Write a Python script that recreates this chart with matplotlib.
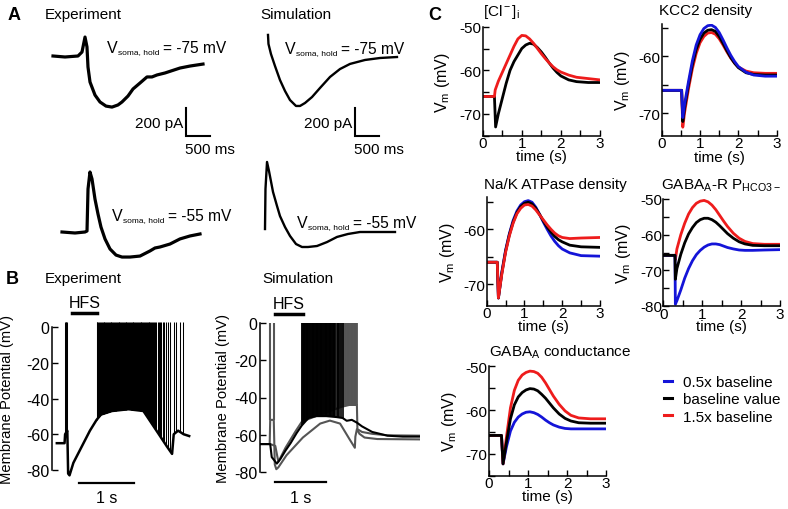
import matplotlib.pyplot as plt
import numpy as np
from matplotlib.lines import Line2D
from matplotlib.ticker import MultipleLocator

plt.rcParams["font.family"] = ["Liberation Sans", "DejaVu Sans"]
plt.rcParams["mathtext.fontset"] = "custom"
plt.rcParams["mathtext.rm"] = "Liberation Sans"
plt.rcParams["mathtext.it"] = "Liberation Sans:italic"
plt.rcParams["mathtext.bf"] = "Liberation Sans:bold"
plt.rcParams["axes.unicode_minus"] = False
plt.rcParams["font.size"] = 10.8

W, H = 788, 510
RED, BLUE, BLACK, GRAY = "#ee1c1c", "#1414d8", "black", "#555555"

# ---------------- panel A: voltage-clamp currents (ms, pA) ----------------
EXP75_T = [0, 250, 521, 604, 667, 708, 729, 771, 875, 979, 1104, 1229, 1354, 1437,
           1562, 1667, 1812, 1958, 2062, 2167, 2333, 2646, 2854, 3125]
EXP75_I = [0, -7, 0, 28, 134, 64, -78, -184, -276, -325, -354, -361, -346, -325,
           -283, -233, -191, -148, -148, -134, -120, -85, -71, -57]
SIM75_T = [0, 10, 62, 146, 250, 354, 458, 583, 667, 771, 917, 1083, 1292, 1500,
           1708, 2021, 2333, 2687]
SIM75_I = [156, 92, 21, -64, -163, -240, -304, -346, -346, -325, -283, -219, -141,
           -85, -49, -21, -7, 0]
EXP55_T = [0, 271, 479, 521, 542, 583, 625, 687, 750, 812, 896, 1000, 1125, 1250,
           1417, 1625, 1833, 1937, 2041, 2250, 2458, 2667, 2875]
EXP55_I = [0, -7, 0, 7, 304, 424, 375, 233, 127, 35, -49, -120, -163, -177, -177,
           -170, -134, -113, -106, -85, -49, -28, -14]
SIM55_T = [0, 10, 42, 83, 167, 250, 312, 417, 521, 646, 771, 896, 1083, 1292, 1500,
           1729, 1979, 2708]
SIM55_I = [21, 304, 495, 431, 283, 184, 113, 35, -28, -85, -106, -106, -99, -71,
           -35, -14, 0, 0]
SCALE_MS, SCALE_PA = 500, 200

# ---------------- panel B: current clamp (s, mV) ----------------
EXPB_ENV_T = [0, 0.14, 0.15, 0.19, 0.205, 0.23, 0.3, 0.4, 0.5, 0.6, 0.72, 0.8, 1.0,
              1.3, 1.57, 1.7, 1.85, 2.0, 2.09, 2.12, 2.2, 2.3, 2.4]
EXPB_ENV_V = [-65, -65, -60, -58, -82, -83, -76, -70, -64, -58, -52, -49, -47, -46,
              -47, -53, -60, -67, -71, -60, -58, -60, -61]
EXPB_SPIKES = [0.15, 0.162, 0.175, 0.185,
               0.720, 0.737, 0.751, 0.768, 0.784, 0.799, 0.815, 0.833, 0.848, 0.862,
               0.880, 0.896, 0.910, 0.927, 0.944, 0.958, 0.975, 0.991, 1.006, 1.023,
               1.040, 1.054, 1.071, 1.088, 1.102, 1.119, 1.136, 1.150, 1.167, 1.184,
               1.198, 1.215, 1.232, 1.246, 1.263, 1.280, 1.294, 1.311, 1.328, 1.342,
               1.359, 1.376, 1.390, 1.407, 1.424, 1.438, 1.455, 1.472, 1.486, 1.503,
               1.520, 1.534, 1.551, 1.568, 1.582, 1.599, 1.616, 1.630, 1.647, 1.664,
               1.678, 1.695, 1.712, 1.730, 1.748, 1.766, 1.785, 1.805, 1.826, 1.848,
               1.870, 1.895, 1.922, 1.950, 1.985, 2.020, 2.055,
               2.13, 2.17, 2.24, 2.29]
EXPB_PEAK = 3

SIMB_BLACK_T = [0, 0.2, 0.23, 0.33, 0.4, 0.5, 0.6, 0.72, 0.82, 0.95, 1.1, 1.3, 1.5,
                1.62, 1.7, 1.8, 1.9, 2.0, 2.2, 2.5, 2.8, 3.14]
SIMB_BLACK_V = [-65, -65, -72, -75.5, -73, -68.5, -64.5, -59, -55, -51, -50, -50,
                -50.5, -51, -52.5, -52, -53.5, -55.5, -58.5, -60.5, -61, -61]
SIMB_BLACK_SPIKES = [0.82, 0.84, 0.855, 0.87, 0.885, 0.90, 0.915, 0.93, 0.95, 0.965,
                     0.98, 0.995, 1.01, 1.03, 1.045, 1.06, 1.075, 1.09, 1.11, 1.125,
                     1.14, 1.155, 1.17, 1.19, 1.205, 1.22, 1.235, 1.25, 1.27, 1.285,
                     1.30, 1.315, 1.33, 1.35, 1.365, 1.38, 1.395, 1.41, 1.43, 1.445,
                     1.46, 1.48, 1.50, 1.52, 1.55, 1.58, 1.62]
SIMB_HIGH_T = [0, 0.2, 0.3, 0.36, 0.5, 0.7, 0.82, 1.0, 1.2, 1.4, 1.6, 1.75, 1.9,
               1.91, 2.0, 2.2, 2.5, 3.14]
SIMB_HIGH_V = [-65, -65, -66, -74.5, -67, -58, -53, -51, -49, -47, -45, -44, -44,
               -57, -58.5, -59.5, -60.3, -60.5]
SIMB_HIGH_SPIKES = [0.83, 0.86, 0.89, 0.92, 0.96, 1.0, 1.04, 1.08, 1.12, 1.16, 1.2,
                    1.24, 1.28, 1.32, 1.36, 1.40, 1.44, 1.48, 1.52, 1.56, 1.60, 1.63,
                    1.645, 1.66, 1.675, 1.69, 1.705, 1.72, 1.735, 1.75, 1.765, 1.78,
                    1.795, 1.81, 1.825, 1.84, 1.855, 1.87, 1.885, 1.9]
SIMB_LOW_T = [0, 0.19, 0.2, 0.27, 0.29, 0.32, 0.36, 0.52, 0.84, 1.18, 1.37, 1.57,
              1.76, 1.86, 1.87, 1.9, 1.95, 2.05, 2.3, 3.14]
SIMB_LOW_V = [-65, -65, -52, -52, -76, -78.5, -77.5, -71, -61.5, -54, -52.4, -54,
              -62.6, -67, -61, -57, -59.5, -61.5, -62.3, -62.5]
SIMB_LOW_SPIKES = [0.2, 0.27]

# ---------------- panel C: parameter sweeps (s, mV) ----------------
T_RISE = [0.4, 0.5, 0.6, 0.7, 0.8, 0.9, 1.0, 1.1, 1.2, 1.3, 1.4, 1.5, 1.6, 1.7, 1.8,
          1.9, 2.0, 2.2, 2.4, 2.7, 3.0]

C1_T = [0, 0.3, 0.33] + T_RISE
C1_BLACK = [-66, -66, -73, -70, -66.5, -63, -60, -58, -56.5, -55, -54.2, -53.8, -54,
            -54.8, -55.8, -57, -58.3, -59.5, -60.5, -61.3, -62.2, -62.6, -62.8, -62.8]
C1_RED_T = [0, 0.3, 0.32] + T_RISE
C1_RED = [-66, -66, -64.5, -62.5, -60.5, -58.5, -56.5, -54.5, -52.8, -52, -52.1,
          -52.8, -53.8, -55, -56.2, -57.3, -58.3, -59.2, -59.9, -60.4, -61.1, -61.6,
          -61.9, -62.2]

C2_T = [0, 0.52, 0.55, 0.6, 0.7, 0.8, 0.9, 1.0, 1.1, 1.2, 1.3, 1.4, 1.5, 1.6, 1.7,
        1.8, 1.9, 2.0, 2.2, 2.4, 2.7, 3.0]
C2_BLACK = [-66, -66, -71.5, -69, -65, -61.5, -58.8, -57, -55.9, -55.4, -55.3, -55.6,
            -56.5, -57.7, -59, -60.2, -61.2, -62, -62.9, -63.2, -63.3, -63.3]
C2_BLUE = [-66, -66, -70.8, -68.3, -64.4, -60.8, -58, -56.2, -55.1, -54.6, -54.5,
           -54.9, -55.8, -57.1, -58.5, -59.8, -60.9, -61.8, -62.8, -63.3, -63.5, -63.5]
C2_RED = [-66, -66, -72.5, -69.8, -65.7, -62.2, -59.5, -57.6, -56.5, -55.9, -55.8,
          -56.1, -56.9, -58, -59.2, -60.3, -61.2, -61.9, -62.6, -62.9, -63, -63]

C3_T = [0, 0.28, 0.31, 0.4, 0.5, 0.6, 0.7, 0.8, 0.9, 1.0, 1.1, 1.2, 1.3, 1.4, 1.5,
        1.6, 1.7, 1.8, 1.9, 2.0, 2.2, 2.5, 3.0]
C3_BLACK = [-66, -66, -72.5, -68, -64, -61, -58.7, -57, -55.9, -55.3, -55.1, -55.4,
            -56.2, -57.3, -58.5, -59.6, -60.5, -61.3, -61.9, -62.3, -62.9, -63.2, -63.3]
C3_BLUE = [-66, -66, -72.5, -67.8, -63.8, -60.8, -58.4, -56.7, -55.6, -55, -54.8,
           -55.1, -56, -57.3, -58.7, -60, -61.2, -62.2, -63, -63.6, -64.3, -64.8, -64.9]
C3_RED = [-66, -66, -72.5, -68.2, -64.2, -61.2, -58.9, -57.2, -56.2, -55.6, -55.5,
          -55.8, -56.5, -57.4, -58.3, -59.2, -60, -60.7, -61.2, -61.5, -61.7, -61.6,
          -61.5]

C4_T = [0, 0.3, 0.31, 0.35, 0.45, 0.55, 0.65, 0.75, 0.85, 0.95, 1.05, 1.15, 1.25,
        1.35, 1.45, 1.55, 1.65, 1.8, 1.95, 2.1, 2.3, 2.6, 3.0]
C4_RED = [-65.8, -65.8, -67, -64, -60, -56.8, -54.2, -52.4, -51.2, -50.6, -50.4,
          -50.8, -51.7, -53, -54.6, -56.2, -57.7, -59.6, -61, -61.9, -62.5, -62.7, -62.7]
C4_BLACK = [-65.8, -65.8, -72.5, -69.5, -65.5, -62.3, -59.8, -58, -56.6, -55.8,
            -55.4, -55.4, -55.8, -56.5, -57.5, -58.6, -59.7, -61, -62, -62.6, -63,
            -63.1, -63.1]
C4_BLUE = [-65.8, -65.8, -79.5, -78.5, -75.5, -72.2, -69.5, -67.3, -65.6, -64.4,
           -63.5, -62.9, -62.6, -62.6, -62.8, -63.2, -63.6, -64, -64.3, -64.4, -64.4,
           -64.3, -64.2]

C5_T = [0, 0.32, 0.36, 0.45, 0.55, 0.65, 0.75, 0.85, 0.95, 1.05, 1.15, 1.25, 1.35,
        1.45, 1.55, 1.65, 1.8, 1.95, 2.1, 2.3, 2.6, 3.0]
C5_RED = [-65.8, -65.8, -72.3, -66, -59.5, -55.5, -53.2, -52, -51.4, -51.1, -51.2,
          -51.6, -52.5, -53.8, -55.3, -56.8, -58.7, -60.2, -61.2, -61.8, -62, -62]
C5_BLACK = [-65.8, -65.8, -72.3, -67.2, -62, -58.8, -57, -56, -55.4, -55.1, -55.2,
            -55.6, -56.4, -57.3, -58.4, -59.5, -60.9, -61.9, -62.5, -62.9, -63, -63]
C5_BLUE = [-65.8, -65.8, -72.3, -68.3, -64.8, -62.8, -61.6, -60.9, -60.5, -60.4,
           -60.6, -61, -61.6, -62.3, -62.9, -63.4, -63.9, -64.2, -64.3, -64.3, -64.3,
           -64.3]

LEGEND_LABELS = ["0.5x baseline", "baseline value", "1.5x baseline"]

MS_PER_PX = 500 / 24.0
PA_PER_PX = 200 / 28.3


def px_axes(fig, left, top, right, bottom):
    return fig.add_axes([left / W, 1 - bottom / H, (right - left) / W, (bottom - top) / H])


def ftext(fig, x, y, s, **kw):
    kw.setdefault("va", "center")
    fig.text(x / W, 1 - y / H, s, **kw)


def trace_axes(fig, origin, box):
    ox, oy = origin
    left, top, right, bottom = box
    ax = px_axes(fig, left, top, right, bottom)
    ax.set_xlim((left - ox) * MS_PER_PX, (right - ox) * MS_PER_PX)
    ax.set_ylim((oy - bottom) * PA_PER_PX, (oy - top) * PA_PER_PX)
    ax.axis("off")
    return ax


def vhold_label(overlay, x, y, value):
    """V_soma,hold = value mV, with a small subscript (baseline at pixel y)."""
    t1 = overlay.text(x, y, "V", fontsize=11.5, va="baseline", ha="left")
    t2 = overlay.annotate("soma, hold", xy=(1, 0), xycoords=t1, xytext=(0.5, 1.2),
                          textcoords="offset points", fontsize=6, va="baseline")
    overlay.annotate(f"= {value} mV", xy=(1, 0), xycoords=(t2, t1), xytext=(2.5, 0),
                     textcoords="offset points", fontsize=11.2, va="bottom")


def scale_bar(ax, x0, y0):
    ax.plot([x0, x0, x0 + SCALE_MS], [y0 + SCALE_PA, y0, y0], color="black", lw=1.5,
            solid_joinstyle="miter", clip_on=False)
    ax.text(x0 - 60, y0 + SCALE_PA * 0.45, f"{SCALE_PA} pA", ha="right", va="center",
            fontsize=11)
    ax.text(x0 - 20, y0 - 40, f"{SCALE_MS} ms", ha="left", va="top", fontsize=11)


def spikes(ax, times, env_t, env_v, peak, **kw):
    base = np.interp(times, env_t, env_v)
    ax.vlines(times, base, peak, **kw)


def style_b(ax):
    for side in ("top", "right", "bottom"):
        ax.spines[side].set_visible(False)
    ax.spines["left"].set_bounds(-80, 0)
    ax.spines["left"].set_linewidth(1.1)
    ax.set_ylim(-80, 0)
    ax.set_yticks([-80, -60, -40, -20, 0])
    ax.set_xticks([])
    ax.tick_params(axis="y", direction="in", length=4, width=1, pad=2, labelsize=11.5)
    ax.set_ylabel("Membrane Potential (mV)", fontsize=10.6)
    ax.patch.set_alpha(0)


def style_c(ax, ylim, title, title_x, title_ha="left"):
    ax.set_xlim(0, 3)
    ax.set_ylim(*ylim)
    for side in ("top", "right"):
        ax.spines[side].set_visible(False)
    for side in ("left", "bottom"):
        ax.spines[side].set_linewidth(1.1)
    ax.xaxis.set_major_locator(MultipleLocator(1))
    ax.xaxis.set_minor_locator(MultipleLocator(0.5))
    ax.yaxis.set_major_locator(MultipleLocator(10))
    ax.yaxis.set_minor_locator(MultipleLocator(5))
    ax.tick_params(which="both", direction="in", length=4, width=1, labelsize=11)
    ax.tick_params(axis="y", pad=1)
    ax.tick_params(axis="x", pad=0.5)
    ax.set_xlabel("time (s)", fontsize=11)
    ax.xaxis.set_label_coords(0.5, -0.125)
    ax.set_ylabel(r"V$_{\rm m}$ (mV)", fontsize=11.5)
    ax.yaxis.set_label_coords(-0.26, 0.5)
    ax.text(title_x, 1.06, title, transform=ax.transAxes, ha=title_ha, va="bottom",
            fontsize=11)
    ax.patch.set_alpha(0)


def main():
    fig = plt.figure(figsize=(W / 100, H / 100), dpi=100)
    overlay = fig.add_axes([0, 0, 1, 1])
    overlay.set_xlim(0, W)
    overlay.set_ylim(H, 0)
    overlay.axis("off")

    # ---------- A ----------
    ftext(fig, 8, 16, "A", fontsize=13, fontweight="bold")
    ftext(fig, 45, 15, "Experiment", fontsize=11)
    ftext(fig, 260, 15, "Simulation", fontsize=11)

    ax = trace_axes(fig, (53, 57), (40, 20, 240, 160))
    ax.plot(EXP75_T, EXP75_I, color="black", lw=2.3, solid_joinstyle="round")
    scale_bar(ax, (186 - 53) * MS_PER_PX, (57 - 137) * PA_PER_PX)

    ax = trace_axes(fig, (268, 58), (255, 20, 430, 160))
    ax.plot(SIM75_T, SIM75_I, color="black", lw=1.7)
    scale_bar(ax, (355 - 268) * MS_PER_PX, (58 - 137) * PA_PER_PX)

    ax = trace_axes(fig, (62, 233), (40, 160, 240, 270))
    ax.plot(EXP55_T, EXP55_I, color="black", lw=2.3, solid_joinstyle="round")

    ax = trace_axes(fig, (265, 233), (255, 160, 430, 270))
    ax.plot(SIM55_T, SIM55_I, color="black", lw=1.7)

    vhold_label(overlay, 107, 53, "-75")
    vhold_label(overlay, 285, 54, "-75")
    vhold_label(overlay, 112, 221, "-55")
    vhold_label(overlay, 297, 228, "-55")

    # ---------- B ----------
    ftext(fig, 6, 279, "B", fontsize=13, fontweight="bold")
    ftext(fig, 45, 279, "Experiment", fontsize=11)
    ftext(fig, 262, 279, "Simulation", fontsize=11)

    ax = px_axes(fig, 52, 328, 200, 471)
    style_b(ax)
    ax.set_xlim(-5 / 57, 148 / 57)
    ax.plot(EXPB_ENV_T, EXPB_ENV_V, color="black", lw=1.8, clip_on=False)
    spikes(ax, EXPB_SPIKES, EXPB_ENV_T, EXPB_ENV_V, EXPB_PEAK, color="black", lw=0.75,
           clip_on=False)
    ax.yaxis.set_label_coords(-0.255, 0.5)
    ax.plot([0.28, 0.72], [7.8, 7.8], color="black", lw=2.5, clip_on=False)
    ax.text(0.5, 9.5, "HFS", ha="center", va="bottom", fontsize=11.5)
    ax.plot([0.4, 1.4], [-87.5, -87.5], color="black", lw=1.6, clip_on=False)
    ax.text(0.9, -91, "1 s", ha="center", va="top", fontsize=11.5)

    ax = px_axes(fig, 260, 324, 420, 473)
    style_b(ax)
    ax.set_xlim(0, 160 / 51)
    ax.plot(SIMB_LOW_T, SIMB_LOW_V, color=GRAY, lw=1.5)
    spikes(ax, SIMB_LOW_SPIKES, SIMB_LOW_T, SIMB_LOW_V, 5, color=GRAY, lw=1.5)
    ax.plot(SIMB_HIGH_T, SIMB_HIGH_V, color=GRAY, lw=1.5)
    spikes(ax, SIMB_HIGH_SPIKES, SIMB_HIGH_T, SIMB_HIGH_V, 5, color=GRAY, lw=1.3)
    ax.plot(SIMB_BLACK_T, SIMB_BLACK_V, color="black", lw=1.5)
    spikes(ax, SIMB_BLACK_SPIKES, SIMB_BLACK_T, SIMB_BLACK_V, 5, color="black", lw=1.2)
    ax.yaxis.set_label_coords(-0.19, 0.5)
    ax.plot([0.29, 0.84], [4.8, 4.8], color="black", lw=2.5, clip_on=False)
    ax.text(0.56, 6.3, "HFS", ha="center", va="bottom", fontsize=11.5)
    ax.plot([0.29, 1.29], [-85.5, -85.5], color="black", lw=1.6, clip_on=False)
    ax.text(0.79, -89.5, "1 s", ha="center", va="top", fontsize=11.5)

    # ---------- C ----------
    ftext(fig, 428, 16, "C", fontsize=13, fontweight="bold")

    ax = px_axes(fig, 482.7, 27.7, 600, 136.7)
    ax.plot(C1_T, C1_BLACK, color=BLACK, lw=2)
    ax.plot(C1_RED_T, C1_RED, color=RED, lw=2)
    style_c(ax, (-75, -50), r"[Cl$^{\rm -}$]$_{\rm i}$", 0.0)

    ax = px_axes(fig, 661.7, 25, 776.7, 136.7)
    ax.plot(C2_T, C2_RED, color=RED, lw=2)
    ax.plot(C2_T, C2_BLACK, color=BLACK, lw=2)
    ax.plot(C2_T, C2_BLUE, color=BLUE, lw=2)
    style_c(ax, (-74, -54.3), "KCC2 density", 0.38, "center")

    ax = px_axes(fig, 486.7, 198.3, 600, 306.7)
    ax.plot(C3_T, C3_BLUE, color=BLUE, lw=2)
    ax.plot(C3_T, C3_BLACK, color=BLACK, lw=2)
    ax.plot(C3_T, C3_RED, color=RED, lw=2)
    style_c(ax, (-73.9, -54.2), "Na/K ATPase density", -0.02)

    ax = px_axes(fig, 663.3, 200, 780, 307)
    ax.plot(C4_T, C4_RED, color=RED, lw=2)
    ax.plot(C4_T, C4_BLUE, color=BLUE, lw=2)
    ax.plot(C4_T, C4_BLACK, color=BLACK, lw=2)
    style_c(ax, (-80, -50), r"GABA$_{\rm A}$-R P$_{\rm HCO3-}$", -0.02)

    ax = px_axes(fig, 489, 367.3, 606, 476.7)
    ax.plot(C5_T, C5_BLUE, color=BLUE, lw=2)
    ax.plot(C5_T, C5_RED, color=RED, lw=2)
    ax.plot(C5_T, C5_BLACK, color=BLACK, lw=2)
    style_c(ax, (-75, -50), r"GABA$_{\rm A}$ conductance", 0.0)

    handles = [Line2D([], [], color=c, lw=2.2) for c in (BLUE, BLACK, RED)]
    fig.legend(handles, LEGEND_LABELS, loc="upper left",
               bbox_to_anchor=(664 / W, 1 - 376 / H), frameon=False,
               handlelength=0.55, handletextpad=0.7, labelspacing=0.22,
               borderaxespad=0, borderpad=0, fontsize=11)

    fig.savefig("out.png", dpi=100)
    plt.close(fig)


if __name__ == "__main__":
    main()
